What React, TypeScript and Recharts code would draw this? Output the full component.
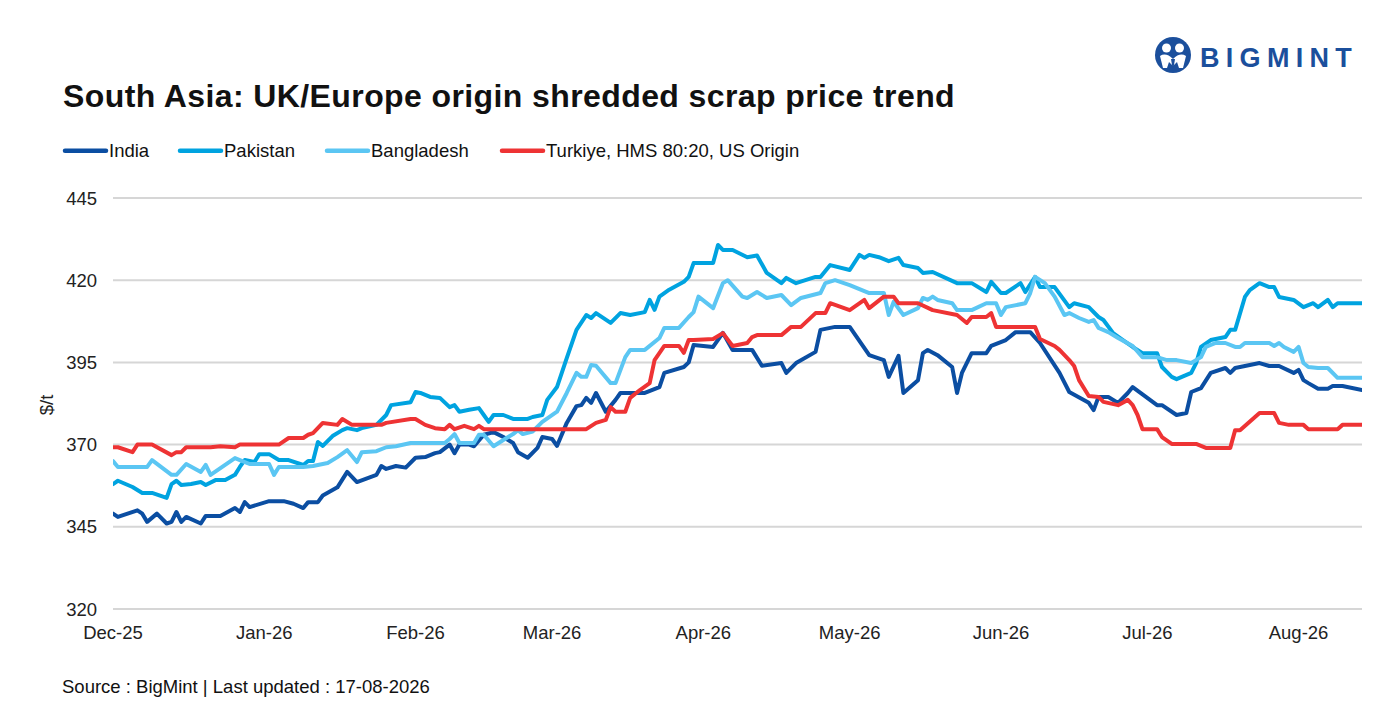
import React from 'react';
import { LineChart, Line, XAxis, YAxis, CartesianGrid } from 'recharts';

const FONT = '"Liberation Sans", Arial, Helvetica, sans-serif';

// x = days since 1 Dec 2025
const monthTicks = [0, 31, 62, 90, 121, 151, 182, 212, 243];
const monthLabels = ['Dec-25', 'Jan-26', 'Feb-26', 'Mar-26', 'Apr-26', 'May-26', 'Jun-26', 'Jul-26', 'Aug-26'];
const yTicks = [320, 345, 370, 395, 420, 445];

const india: [number, number][] = [[0,349],[1,348],[5,350],[6,349],[7,346.5],[9,349],[11,346],[12,346.5],[13,349.5],[14,346.5],[15,348],[18,346],[19,348.3],[22,348.3],[25,350.7],[26,349.5],[27,352.5],[28,351],[32,352.8],[35,352.8],[37,352],[39,350.7],[40,352.5],[42,352.5],[43,354.5],[46,357],[48,361.7],[50,358.6],[54,360.8],[55,363.5],[56,362.6],[58,363.5],[60,363],[62,366],[64,366.2],[66,367.4],[67,367.7],[69,370],[70,367.4],[71,370],[73,370],[74,369.5],[76,373],[78,373.8],[80,372.3],[82,370.5],[83,367.7],[85,366],[87,369],[88,372.3],[90,371.7],[91,369.6],[93,376.6],[95,381.7],[96,382],[97,384.2],[98,382.7],[99,385.7],[101,380],[103,383.6],[104,385.7],[109,385.7],[112,387.5],[113,391.8],[117,393.6],[118,395],[119,400.3],[123,399.7],[125,404],[127,398.8],[131,398.8],[133,394],[137,394.8],[138,391.8],[140,394.8],[144,398.2],[145,404.9],[148,405.8],[151,405.8],[155,397.2],[158,395.7],[159,390.6],[161,397],[162,385.7],[165,389.6],[166,397.8],[167,398.8],[169,397.2],[172,393.6],[173,385.7],[174,391.8],[176,397.8],[179,397.8],[180,400],[183,401.8],[185,404.2],[188,404.2],[190,400.9],[194,391.8],[196,386],[200,382.7],[201,380.5],[202,384.5],[204,384.5],[206,382.7],[208,385.7],[209,387.5],[214,382],[215,382],[218,379],[220,379.6],[221,386],[223,387.2],[225,391.8],[228,393.3],[229,391.8],[230,393.3],[232,393.9],[235,394.8],[237,393.9],[239,393.9],[242,391.8],[243,392.7],[244,389.6],[245,388.7],[247,387],[249,387],[250,387.8],[252,387.8],[256,386.6]];

const pakistan: [number, number][] = [[0,358],[1,359],[4,357.1],[6,355.3],[8,355.3],[11,353.8],[12,358],[13,359],[14,357.7],[16,358],[18,358.6],[19,357.7],[21,359.2],[23,359.2],[25,360.8],[26,363.2],[27,365.3],[29,364.7],[30,367.1],[32,367.1],[34,365.3],[36,365.3],[39,363.8],[40,365],[41,365],[42,370.8],[43,369.6],[45,372.6],[47,374.4],[48,375],[50,374.4],[51,375],[54,376],[56,379],[57,382],[61,382.9],[62,386],[63,385.7],[65,384.5],[67,384.2],[69,381.4],[70,382],[71,380],[73,380.6],[75,381.1],[76,379],[77,376.9],[78,379],[80,379],[82,377.8],[85,377.8],[86,378.4],[88,379],[89,383.6],[91,387.5],[93,396.3],[95,404.9],[97,409.4],[98,408.5],[99,410],[102,407],[104,410],[106,409.4],[109,410.3],[110,414],[111,411],[112,415],[114,417.1],[117,419.5],[118,421],[119,425.2],[123,425.2],[124,430.7],[125,429.2],[127,429.2],[130,427],[132,427.5],[134,422.2],[137,419.1],[138,420.7],[140,419.1],[144,421],[145,421],[147,424.6],[151,423.1],[153,427.7],[154,426.8],[155,427.7],[157,427],[159,425.8],[161,426.8],[162,424.6],[165,423.7],[166,422.2],[168,422.5],[173,419.1],[176,419.1],[179,416.4],[180,419.5],[182,416.1],[183,416.1],[186,419.1],[187,416.4],[189,421],[190,417.9],[193,417.9],[196,411.8],[197,413],[200,411.8],[202,408.8],[203,407.9],[205,403.9],[207,401.8],[209,399.7],[211,397.8],[214,397.8],[215,393.6],[217,390.6],[218,389.9],[221,391.8],[222,394.8],[223,399.7],[225,401.8],[228,402.7],[229,404.9],[230,404.9],[232,414.9],[233,417],[235,419.1],[237,417.9],[238,417.9],[239,414.9],[242,414],[244,411.8],[246,413],[247,411.8],[249,414],[250,411.8],[251,413],[256,413]];

const bangladesh: [number, number][] = [[0,365],[1,363.2],[7,363.2],[8,365.3],[12,360.8],[13,360.8],[15,364.1],[18,361.7],[19,363.8],[20,360.8],[25,365.9],[26,365.3],[28,364.1],[32,364.1],[33,360.8],[34,363.2],[39,363.2],[41,363.5],[44,364.4],[46,366.2],[48,368.3],[50,364.7],[51,367.7],[54,368],[56,369.2],[58,369.5],[61,370.5],[68,370.5],[69,371.7],[70,373.2],[71,370.5],[74,370.5],[75,373],[76,373],[78,369.5],[80,371.4],[82,373.2],[83,374.4],[84,373.2],[86,374],[88,376.9],[91,380],[93,385.7],[95,391.8],[96,390.6],[97,390.6],[98,394.2],[99,394],[102,388.7],[103,388.7],[105,396.6],[106,398.8],[109,398.8],[112,402.4],[113,405.5],[116,405.5],[118,408.8],[119,410.3],[120,415],[123,411.5],[125,419.1],[126,420],[129,415],[130,414.6],[132,416.4],[134,414.6],[137,415.5],[139,412.4],[141,414.6],[145,416.1],[146,419.1],[148,420],[151,418.5],[152,417.9],[155,416.1],[158,416.1],[159,409.4],[160,413.4],[162,409.4],[165,411.5],[166,414.6],[167,414],[168,415],[169,414],[172,413],[173,410.9],[176,410.9],[179,413],[181,413],[182,409.4],[183,411.8],[187,413],[188,416.1],[189,421],[191,419.1],[193,415],[195,409.4],[196,410],[198,408.5],[200,407.3],[201,407.9],[202,405.5],[204,404.2],[206,402.4],[209,400],[211,396.6],[214,396.6],[216,395.7],[218,395.7],[221,394.8],[223,396.6],[224,399.7],[226,400.9],[228,400.9],[230,399.7],[231,399.7],[232,400.9],[237,400.9],[238,400],[239,400.9],[240,399.7],[242,398.2],[243,399.7],[244,394.8],[245,393.6],[247,393.3],[249,393.3],[251,390.3],[256,390.3]];

const turkiye: [number, number][] = [[0,369.2],[1,369.2],[4,367.7],[5,370],[8,370],[12,366.8],[13,367.7],[14,367.7],[15,369.2],[20,369.2],[22,369.5],[25,369.2],[26,370],[34,370],[36,372],[39,372],[40,373],[41,373.5],[43,376.6],[46,376],[47,377.8],[49,376],[55,376],[56,376.6],[61,377.8],[62,377.8],[64,376],[66,375],[68,374.7],[69,376],[70,374.7],[72,375.7],[74,374.7],[75,375.7],[76,374.7],[97,374.7],[99,376.6],[101,377.5],[102,381.4],[103,380],[105,380],[106,384.2],[108,386.6],[110,388.7],[111,395.7],[113,400],[116,400],[117,397.9],[118,401.8],[119,401.8],[123,402.1],[125,403.9],[127,400],[130,400.9],[131,402.7],[132,403.3],[137,403.3],[139,405.8],[141,405.8],[144,410],[146,410],[147,413],[151,410.9],[154,414],[155,411.5],[158,415],[160,415],[161,413],[165,413],[168,410.9],[173,409.4],[175,407],[176,408.8],[179,408.8],[180,410],[181,405.8],[189,405.8],[190,402.1],[193,400],[194,398.8],[196,395.7],[197,393.9],[198,389.6],[200,384.8],[202,384.5],[203,383],[206,382],[208,383.6],[209,382],[210,379],[211,374.7],[214,374.7],[215,372.3],[217,370.2],[222,370.2],[224,369],[229,369],[230,374.4],[231,374.4],[235,379.6],[238,379.6],[239,376.6],[241,376],[244,376],[245,374.7],[251,374.7],[252,376],[256,376]];

const seriesNames = ['India', 'Pakistan', 'Bangladesh', 'Turkiye, HMS 80:20, US Origin'];
const seriesColors = ['#0B4EA2', '#00A3E0', '#5BC6F3', '#EE3334'];
const seriesData = [india, pakistan, bangladesh, turkiye];

const toRows = (pts: [number, number][]) => pts.map(([day, v]) => ({ day, v }));

const legendSwatchX = [55, 170, 317, 492];

export default function App() {
  const tickStyle = { fill: '#222', fontSize: 18.5, fontFamily: FONT };
  return (
    <div style={{ position: 'relative', width: 1382, height: 692, fontFamily: FONT, background: '#fff' }}>
      <svg width={1382} height={692} style={{ position: 'absolute', left: 0, top: 0 }}>
        <text x={55} y={99} fontSize={32} fontWeight="bold" fill="#111" fontFamily={FONT} letterSpacing={0.4}>
          South Asia: UK/Europe origin shredded scrap price trend
        </text>
        {seriesNames.map((n, i) => (
          <g key={n}>
            <line x1={legendSwatchX[i] + 2} x2={legendSwatchX[i] + 43} y1={142.7} y2={142.7} stroke={seriesColors[i]} strokeWidth={4.5} strokeLinecap="round" />
            <text x={legendSwatchX[i] + 46} y={148.7} fontSize={18.5} fill="#111" fontFamily={FONT}>{n}</text>
          </g>
        ))}
        <text x={0} y={0} transform="translate(45,397) rotate(-90)" textAnchor="middle" fontSize={18.5} fill="#222" fontFamily={FONT}>$/t</text>
        <text x={54} y={685} fontSize={18.5} fill="#111" fontFamily={FONT}>Source : BigMint | Last updated : 17-08-2026</text>
        <g transform="translate(1165,47)">
          <circle r={18} fill="#1B4F9C" />
          <circle cx={-6.5} cy={-7} r={4.5} fill="#fff" />
          <circle cx={6.5} cy={-7} r={4.5} fill="#fff" />
          <path d="M-13 1 Q-7 -3 0 4 Q7 -3 13 1 L10 13 L6 13 L4 7 L0 11 L-4 7 L-6 13 L-10 13 Z" fill="#fff" />
          <path d="M-2 4 L0 16 L2 4 Z" fill="#1B4F9C" />
        </g>
        <text x={1192} y={59} fontSize={27} fontWeight="bold" fill="#1B4F9C" fontFamily={FONT} letterSpacing={6.3}>BIGMINT</text>
      </svg>
      <div style={{ position: 'absolute', left: 0, top: 0 }}>
        <LineChart width={1382} height={650} margin={{ top: 190, right: 28, left: 0, bottom: 9 }}>
          <CartesianGrid vertical={false} stroke="#d6d6d6" strokeWidth={2} />
          <XAxis
            type="number"
            dataKey="day"
            domain={[0, 256]}
            ticks={monthTicks}
            tickFormatter={(d: number) => monthLabels[monthTicks.indexOf(d)] ?? ''}
            interval={0}
            axisLine={false}
            tickLine={false}
            tickSize={0}
            tickMargin={17}
            height={40}
            tick={tickStyle}
            allowDataOverflow
          />
          <YAxis
            type="number"
            domain={[320, 445]}
            ticks={yTicks}
            interval={0}
            axisLine={false}
            tickLine={false}
            tickSize={0}
            tickMargin={16}
            width={105}
            tick={tickStyle}
            allowDataOverflow
          />
          {seriesData.map((pts, i) => (
            <Line
              key={seriesNames[i]}
              data={toRows(pts)}
              dataKey="v"
              name={seriesNames[i]}
              type="linear"
              stroke={seriesColors[i]}
              strokeWidth={4}
              strokeLinejoin="round"
              strokeLinecap="round"
              dot={false}
              activeDot={false}
              isAnimationActive={false}
            />
          ))}
        </LineChart>
      </div>
    </div>
  );
}
